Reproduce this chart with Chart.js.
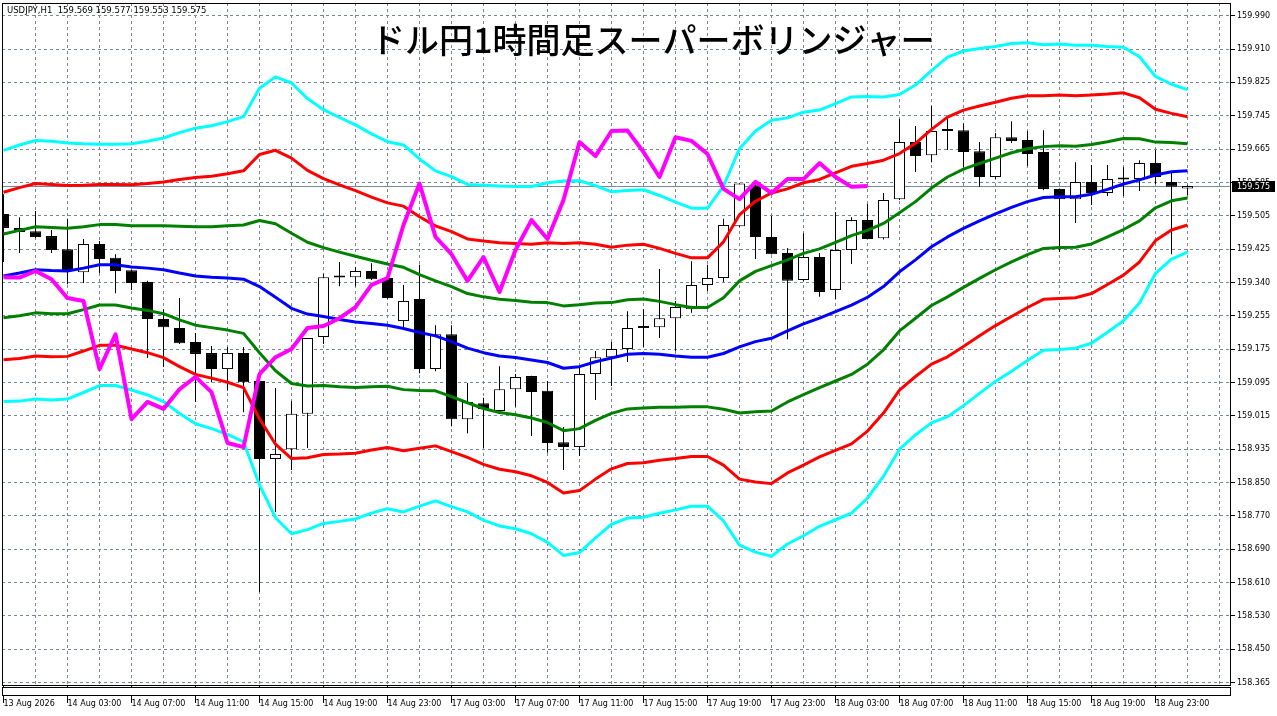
<!DOCTYPE html>
<html lang="ja">
<head>
  <meta charset="UTF-8">
  <title>ドル円1時間足スーパーボリンジャー</title>
  <style>
    html, body { margin: 0; padding: 0; background: #fff; }
    #wrap { width: 1277px; height: 716px; }
  </style>
</head>
<body>
  <div id="wrap"><canvas id="chart" width="1277" height="716"></canvas></div>

  <script src="https://cdn.jsdelivr.net/npm/chart.js"></script>
  <script>
    // USDJPY H1, candles 0..74 (13 Aug 23:00 -> 19 Aug 01:00)
    const opens = [
      159.507, 159.473, 159.465, 159.453, 159.421, 159.365, 159.434, 159.400, 159.370, 159.341,
      159.251, 159.229, 159.195, 159.168, 159.129, 159.168, 159.100, 158.910, 158.934, 159.020,
      159.207, 159.356, 159.353, 159.368, 159.351, 159.246, 159.300, 159.129, 159.214, 159.007,
      159.046, 159.027, 159.080, 159.112, 159.076, 158.951, 158.939, 159.117, 159.158, 159.178,
      159.229, 159.231, 159.253, 159.275, 159.334, 159.351, 159.477, 159.577, 159.451, 159.412,
      159.346, 159.402, 159.322, 159.419, 159.492, 159.448, 159.543, 159.682, 159.650, 159.709,
      159.711, 159.660, 159.597, 159.694, 159.687, 159.658, 159.568, 159.543, 159.585, 159.558,
      159.591, 159.592, 159.631, 159.585, 159.569
    ];
    const highs = [
      159.555, 159.499, 159.514, 159.468, 159.495, 159.446, 159.441, 159.409, 159.371, 159.344,
      159.275, 159.302, 159.217, 159.185, 159.183, 159.183, 159.102, 159.083, 159.051, 159.205,
      159.361, 159.390, 159.378, 159.387, 159.353, 159.334, 159.383, 159.236, 159.236, 159.095,
      159.059, 159.136, 159.117, 159.113, 159.100, 158.988, 159.134, 159.173, 159.195, 159.270,
      159.275, 159.373, 159.295, 159.392, 159.383, 159.495, 159.582, 159.587, 159.502, 159.424,
      159.460, 159.412, 159.512, 159.499, 159.531, 159.558, 159.738, 159.721, 159.770, 159.741,
      159.728, 159.682, 159.704, 159.733, 159.709, 159.711, 159.569, 159.633, 159.626, 159.626,
      159.621, 159.638, 159.663, 159.611, 159.577
    ];
    const lows = [
      159.390, 159.412, 159.448, 159.412, 159.336, 159.339, 159.363, 159.314, 159.322, 159.156,
      159.134, 159.190, 159.049, 159.097, 159.076, 159.024, 158.586, 158.781, 158.883, 158.937,
      159.190, 159.331, 159.331, 159.346, 159.300, 159.231, 159.119, 159.124, 158.990, 158.973,
      158.937, 159.026, 159.037, 158.966, 158.925, 158.883, 158.917, 159.054, 159.088, 159.146,
      159.183, 159.205, 159.173, 159.266, 159.319, 159.341, 159.475, 159.397, 159.409, 159.202,
      159.343, 159.305, 159.300, 159.385, 159.446, 159.445, 159.541, 159.609, 159.633, 159.663,
      159.621, 159.573, 159.592, 159.680, 159.624, 159.565, 159.414, 159.485, 159.529, 159.551,
      159.551, 159.563, 159.580, 159.409, 159.553
    ];
    const closes = [
      159.473, 159.463, 159.451, 159.419, 159.368, 159.434, 159.397, 159.368, 159.339, 159.251,
      159.231, 159.192, 159.166, 159.129, 159.168, 159.097, 158.910, 158.922, 159.020, 159.205,
      159.353, 159.352, 159.368, 159.348, 159.302, 159.295, 159.129, 159.214, 159.007, 159.049,
      159.032, 159.080, 159.110, 159.073, 158.949, 158.939, 159.117, 159.158, 159.178, 159.229,
      159.234, 159.253, 159.280, 159.334, 159.351, 159.480, 159.581, 159.451, 159.409, 159.344,
      159.402, 159.317, 159.419, 159.492, 159.446, 159.541, 159.682, 159.648, 159.709, 159.710,
      159.658, 159.597, 159.694, 159.685, 159.653, 159.568, 159.543, 159.585, 159.558, 159.592,
      159.592, 159.631, 159.597, 159.573, 159.575
    ];

    // bollinger middle line and one standard deviation
    const bbMid = [
      159.356, 159.363, 159.371, 159.369, 159.368, 159.375, 159.383, 159.383, 159.378, 159.375,
      159.371, 159.363, 159.356, 159.353, 159.351, 159.348, 159.330, 159.304, 159.277, 159.263,
      159.257, 159.250, 159.244, 159.240, 159.236, 159.228, 159.218, 159.210, 159.196, 159.180,
      159.169, 159.161, 159.157, 159.151, 159.145, 159.131, 159.135, 159.147, 159.156, 159.165,
      159.167, 159.165, 159.161, 159.158, 159.158, 159.167, 159.183, 159.196, 159.204, 159.222,
      159.239, 159.253, 159.269, 159.285, 159.304, 159.330, 159.366, 159.395, 159.427, 159.451,
      159.472, 159.490, 159.507, 159.523, 159.537, 159.547, 159.549, 159.549, 159.555, 159.567,
      159.580, 159.590, 159.602, 159.610, 159.612
    ];
    const bbDev = [
      0.102, 0.104, 0.105, 0.105, 0.104, 0.101, 0.098, 0.098, 0.100, 0.103,
      0.107, 0.114, 0.120, 0.123, 0.127, 0.132, 0.161, 0.179, 0.183, 0.175,
      0.168, 0.164, 0.160, 0.154, 0.149, 0.149, 0.141, 0.134, 0.134, 0.133,
      0.136, 0.138, 0.139, 0.141, 0.146, 0.152, 0.151, 0.143, 0.135, 0.133,
      0.133, 0.129, 0.125, 0.121, 0.121, 0.136, 0.161, 0.171, 0.177, 0.173,
      0.172, 0.169, 0.169, 0.169, 0.163, 0.154, 0.144, 0.142, 0.143, 0.146,
      0.144, 0.140, 0.136, 0.133, 0.129, 0.124, 0.124, 0.123, 0.121, 0.116,
      0.111, 0.100, 0.080, 0.071, 0.066
    ];
    const chikouShift = 20; // lagging span: close drawn 20 bars back

    const xLabels = [
      '13 Aug 2026', '14 Aug 03:00', '14 Aug 07:00', '14 Aug 11:00', '14 Aug 15:00',
      '14 Aug 19:00', '14 Aug 23:00', '17 Aug 03:00', '17 Aug 07:00', '17 Aug 11:00',
      '17 Aug 15:00', '17 Aug 19:00', '17 Aug 23:00', '18 Aug 03:00', '18 Aug 07:00',
      '18 Aug 11:00', '18 Aug 15:00', '18 Aug 19:00', '18 Aug 23:00'
    ];
    const yTickValues = [
      159.990, 159.90875, 159.8275, 159.74625, 159.665, 159.58375, 159.5025, 159.42125,
      159.340, 159.25875, 159.1775, 159.09625, 159.015, 158.93375, 158.8525, 158.77125,
      158.690, 158.60875, 158.5275, 158.44625, 158.365
    ];
    const yTickLabels = [
      '159.990', '159.910', '159.825', '159.745', '159.665', '159.585', '159.505', '159.425',
      '159.340', '159.255', '159.175', '159.095', '159.015', '158.935', '158.850', '158.770',
      '158.690', '158.610', '158.530', '158.450', '158.365'
    ];

    const title = 'ドル円1時間足スーパーボリンジャー';
    const symbol = 'USDJPY,H1';

    const GRID = '#778899';
    const last = closes.length - 1;

    function band(k) {
      return bbMid.map((m, i) => ({ x: i, y: m + k * bbDev[i] }));
    }
    function lineSet(label, data, color, width, order) {
      return {
        type: 'line', label, data, borderColor: color, borderWidth: width,
        pointRadius: 0, tension: 0, fill: false, order, borderJoinStyle: 'round'
      };
    }

    const datasets = [
      lineSet('chikou', closes.slice(chikouShift).map((c, i) => ({ x: i, y: c })), '#ff00ff', 4, 0),
      lineSet('mid', band(0), '#0000ff', 3, 1),
      lineSet('+1', band(1), '#008000', 3, 2),
      lineSet('-1', band(-1), '#008000', 3, 2),
      lineSet('+2', band(2), '#ff0000', 3, 3),
      lineSet('-2', band(-2), '#ff0000', 3, 3),
      lineSet('+3', band(3), '#00ffff', 3, 4),
      lineSet('-3', band(-3), '#00ffff', 3, 4),
      {
        type: 'bar', label: 'body',
        data: opens.map((o, i) => ({ x: i, y: [o, closes[i]] })),
        backgroundColor: c => closes[c.dataIndex] >= opens[c.dataIndex] ? '#ffffff' : '#000000',
        borderColor: '#000', borderWidth: 1, borderSkipped: false,
        barThickness: 11, grouped: false, inflateAmount: 0, minBarLength: 2, order: 5
      },
      {
        type: 'bar', label: 'wick',
        data: lows.map((l, i) => ({ x: i, y: [l, highs[i]] })),
        backgroundColor: '#000', borderWidth: 0,
        barThickness: 1, grouped: false, inflateAmount: 0, order: 6
      }
    ];

    const decor = {
      id: 'decor',
      beforeDatasetsDraw(chart) {
        const { ctx, chartArea: a, scales: { y } } = chart;
        const py = Math.round(y.getPixelForValue(closes[last])) + 0.5;
        ctx.save();
        ctx.strokeStyle = GRID;
        ctx.lineWidth = 1;
        ctx.beginPath();
        ctx.moveTo(a.left, py);
        ctx.lineTo(a.right, py);
        ctx.stroke();
        ctx.restore();
      },
      afterDraw(chart) {
        const { ctx, chartArea: a, scales: { y } } = chart;
        ctx.save();
        // frame + empty strip under the plot
        ctx.strokeStyle = '#000';
        ctx.lineWidth = 1;
        ctx.strokeRect(a.left + 0.5, a.top + 0.5, a.right - a.left - 1, a.bottom - a.top - 1);
        ctx.fillStyle = '#fff';
        ctx.fillRect(a.left, a.bottom + 1, a.right - a.left, 9);
        ctx.strokeRect(a.left + 0.5, a.bottom + 1.5, a.right - a.left - 1, 8);

        // current price tag
        const py = Math.round(y.getPixelForValue(closes[last]));
        ctx.fillStyle = '#000';
        ctx.fillRect(a.right + 1, py - 5, 43, 11);
        ctx.fillStyle = '#fff';
        ctx.font = '8px "DejaVu Sans"';
        ctx.textBaseline = 'middle';
        ctx.textAlign = 'left';
        ctx.fillText(closes[last].toFixed(3), a.right + 6, py + 0.5);

        // symbol line top left
        ctx.fillStyle = '#000';
        ctx.font = '8.5px "DejaVu Sans"';
        const ohlc = [opens[last], highs[last], lows[last], closes[last]].map(v => v.toFixed(3)).join(' ');
        ctx.fillText(symbol + '  ' + ohlc, 7, 11);

        // big title inside the plot
        ctx.font = '500 34px "Noto Sans CJK JP"';
        ctx.fillText(title, 371, 40);
        ctx.restore();
      }
    };

    Chart.defaults.font.family = '"DejaVu Sans"';
    Chart.defaults.color = '#000';

    new Chart(document.getElementById('chart'), {
      data: { datasets },
      options: {
        responsive: false,
        animation: false,
        events: [],
        layout: { padding: { left: 2, top: 3, right: 0, bottom: 0 }, autoPadding: false },
        plugins: { legend: { display: false }, tooltip: { enabled: false }, title: { display: false } },
        scales: {
          x: {
            type: 'linear',
            offset: false,
            min: -0.09375,
            max: 76.71875,
            afterBuildTicks: s => {
              const t = [];
              for (let k = 0; k <= 76; k += 2) t.push({ value: k });
              s.ticks = t;
            },
            afterFit: s => {
              s.height = 30;
              s.paddingLeft = 0; s.paddingRight = 0;
            },
            ticks: {
              autoSkip: false,
              maxRotation: 0,
              align: 'start',
              padding: -3,
              font: { size: 8, lineHeight: 1 },
              callback: v => (v % 4 === 0 && v / 4 < xLabels.length) ? xLabels[v / 4] : ''
            },
            grid: {
              offset: false,
              color: c => c.tick && c.tick.value === 0 ? 'rgba(0,0,0,0)' : GRID,
              tickColor: c => c.tick && c.tick.value % 4 === 0 && c.tick.value / 4 < xLabels.length ? '#000' : 'rgba(0,0,0,0)',
              tickLength: 17,
              lineWidth: 1,
              tickBorderDash: []
            },
            border: { display: false, dash: [3, 3] }
          },
          y: {
            type: 'linear',
            position: 'right',
            min: 158.35696,
            max: 160.0209,
            afterBuildTicks: s => { s.ticks = yTickValues.map(v => ({ value: v })); },
            afterFit: s => {
              s.width = 46;
              s.paddingTop = 0; s.paddingBottom = 0;
            },
            ticks: {
              autoSkip: false,
              padding: 2,
              font: { size: 8 },
              callback: (v, i) => yTickLabels[i]
            },
            grid: {
              color: GRID,
              tickColor: '#000',
              tickLength: 4,
              lineWidth: 1,
              tickBorderDash: []
            },
            border: { display: false, dash: [3, 3] }
          }
        }
      },
      plugins: [decor]
    });
  </script>
</body>
</html>
